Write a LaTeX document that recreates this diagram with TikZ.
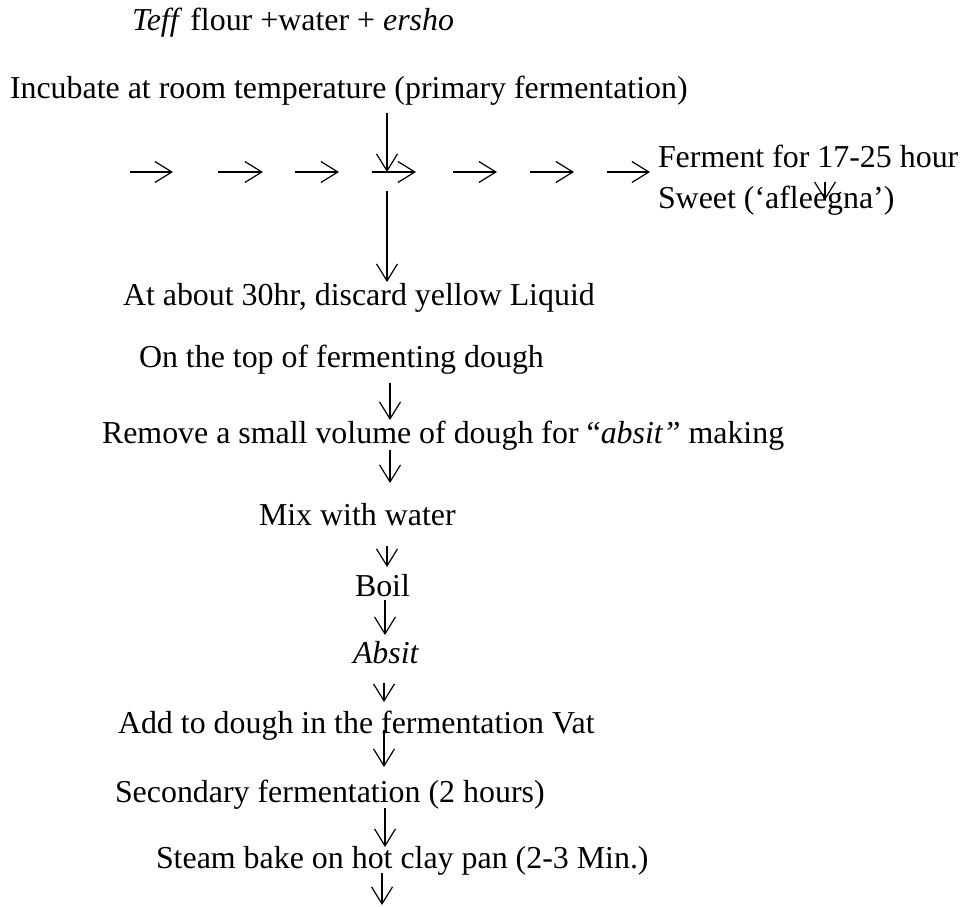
\documentclass[tikz,border=0pt]{standalone}
\usepackage{fontspec}
\setmainfont{Liberation Serif}
\usetikzlibrary{arrows.meta}
\begin{document}
\begin{tikzpicture}[x=1pt,y=-1pt,
  lbl/.style={anchor=base west,inner sep=0pt,outer sep=0pt,font=\fontsize{31.9}{36}\selectfont},
  arr/.style={line width=1.2pt,-{Straight Barb[length=17pt,width=21pt,line width=1.2pt]}}]
\useasboundingbox (0,0) rectangle (966,907);
% texts
\node[lbl] (t1) at (132,31) {\textit{Teff} flour +water + \textit{ersho}};
\node[lbl] (t2) at (10,99) {Incubate at room temperature (primary fermentation)};
\node[lbl] (t3) at (658,167) {Ferment for 17-25 hour};
\node[lbl] (t4) at (658,208) {Sweet (‘afleegna’)};
\node[lbl] (t5) at (123,305) {At about 30hr, discard yellow Liquid};
\node[lbl] (t6) at (139,367) {On the top of fermenting dough};
\node[lbl] (t7) at (102,443) {Remove a small volume of dough for “\textit{absit”} making};
\node[lbl] (t8) at (259,525) {Mix with water};
\node[lbl] (t9) at (355,596) {Boil};
\node[lbl] (t10) at (353,663) {\textit{Absit}};
\node[lbl] (t11) at (118,733) {Add to dough in the fermentation Vat};
\node[lbl] (t12) at (115,802) {Secondary fermentation (2 hours)};
\node[lbl] (t13) at (156,868) {Steam bake on hot clay pan (2-3 Min.)};
% arrow end points
\coordinate (v1s) at (387,113); \coordinate (v1e) at (387,172);
\coordinate (h1s) at (130,172); \coordinate (h1e) at (173,172);
\coordinate (h2s) at (218,172); \coordinate (h2e) at (263,172);
\coordinate (h3s) at (295,172); \coordinate (h3e) at (339,172);
\coordinate (h4s) at (372,172); \coordinate (h4e) at (416,172);
\coordinate (h5s) at (453,172); \coordinate (h5e) at (497,172);
\coordinate (h6s) at (530,172); \coordinate (h6e) at (574,172);
\coordinate (h7s) at (607,172); \coordinate (h7e) at (650,172);
\coordinate (v2s) at (825,182); \coordinate (v2e) at (825,200);
\coordinate (v3s) at (387,191); \coordinate (v3e) at (387,282);
\coordinate (v4s) at (390,383); \coordinate (v4e) at (390,420);
\coordinate (v5s) at (390,450); \coordinate (v5e) at (390,483);
\coordinate (v6s) at (387,546); \coordinate (v6e) at (387,567);
\coordinate (v7s) at (385,600); \coordinate (v7e) at (385,635);
\coordinate (v8s) at (384,683); \coordinate (v8e) at (384,702);
\coordinate (v9s) at (384,730); \coordinate (v9e) at (384,767);
\coordinate (v10s) at (385,808); \coordinate (v10e) at (385,847);
\coordinate (v11s) at (382,873); \coordinate (v11e) at (382,905);
\foreach \a in {v1,h1,h2,h3,h4,h5,h6,h7,v2,v3,v4,v5,v6,v7,v8,v9,v10,v11}
  \draw[arr] (\a s) -- (\a e);
\end{tikzpicture}
\end{document}
